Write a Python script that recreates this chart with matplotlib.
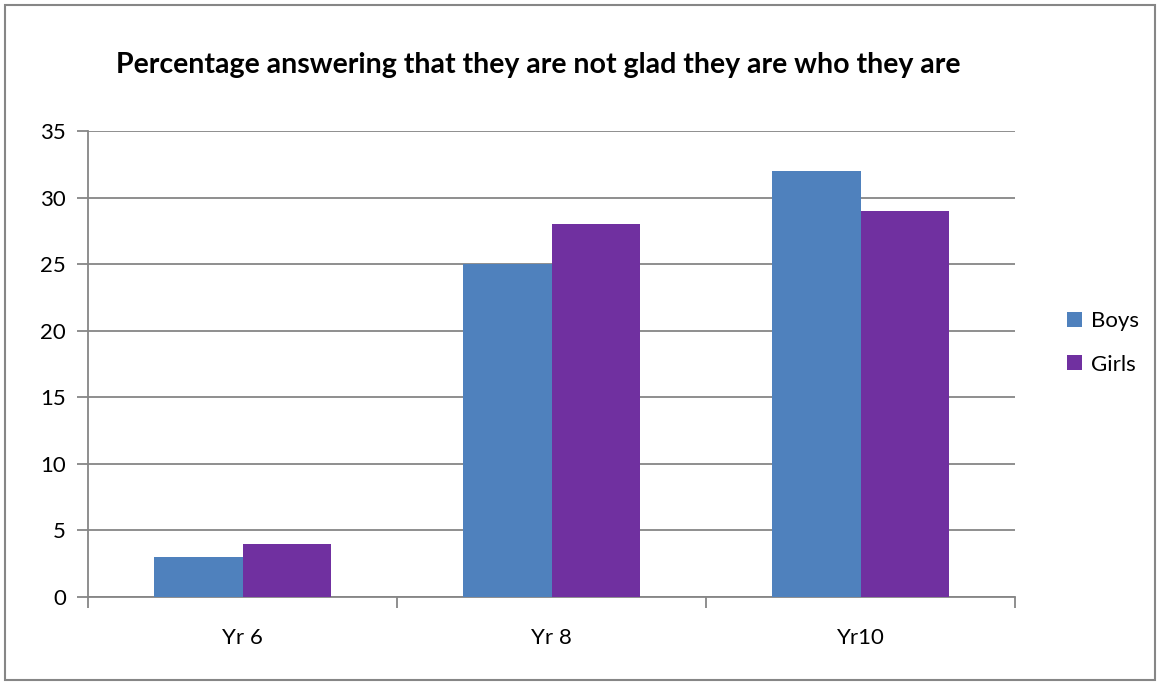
import numpy as np
import matplotlib.pyplot as plt
from matplotlib.patches import Rectangle

# data
years = ['Yr 6', 'Yr 8', 'Yr10']
boys = [3, 25, 32]
girls = [4, 28, 29]
y_ticks = [0, 5, 10, 15, 20, 25, 30, 35]

BOYS_COL = '#4F81BD'
GIRLS_COL = '#7030A0'
GRID_COL = '#868686'

plt.rcParams['font.family'] = ['Lato', 'DejaVu Sans']

fig = plt.figure(figsize=(11.61, 6.83), dpi=100)
axs = fig.add_axes([88 / 1161, 1 - 597 / 683, 927 / 1161, 466 / 683])

x = np.arange(len(years))
w = 0.287
axs.bar(x - w / 2, boys, width=w, color=BOYS_COL, label='Boys', zorder=3)
axs.bar(x + w / 2, girls, width=w, color=GIRLS_COL, label='Girls', zorder=3)

axs.set_xlim(-0.5, len(years) - 0.5)
axs.set_ylim(0, 35)
axs.set_yticks(y_ticks)
axs.yaxis.grid(True, color=GRID_COL, linewidth=1.3, zorder=0)
axs.set_axisbelow(True)

# category labels centred, tick marks on the category boundaries
axs.set_xticks(np.arange(-0.5, len(years)), minor=False)
axs.set_xticklabels([])
axs.set_xticks(x, minor=True)
axs.set_xticklabels(years, minor=True)
axs.tick_params(axis='x', which='minor', length=0, pad=22, labelsize=16)
axs.tick_params(axis='x', which='major', length=8, width=1.3, color=GRID_COL)
axs.tick_params(axis='y', length=8, width=1.3, color=GRID_COL, labelsize=16, pad=8)

for side in ['top', 'right']:
    axs.spines[side].set_visible(False)
for side in ['left', 'bottom']:
    axs.spines[side].set_color(GRID_COL)
    axs.spines[side].set_linewidth(1.3)

fig.text(538 / 1161, 1 - 65 / 683, 'Percentage answering that they are not glad they are who they are',
         ha='center', va='center', fontsize=20.5, fontweight='bold')

axs.legend(loc='center left', bbox_to_anchor=(1.035, 0.545), frameon=False, fontsize=16,
           handlelength=0.65, handleheight=0.65, labelspacing=1.05, handletextpad=0.4)

# outer chart border
fig.patches.append(Rectangle((5 / 1161, 3 / 683), 1150 / 1161, 675 / 683, transform=fig.transFigure,
                             fill=False, edgecolor=GRID_COL, linewidth=1.5))

fig.savefig('out.png', dpi=100)
